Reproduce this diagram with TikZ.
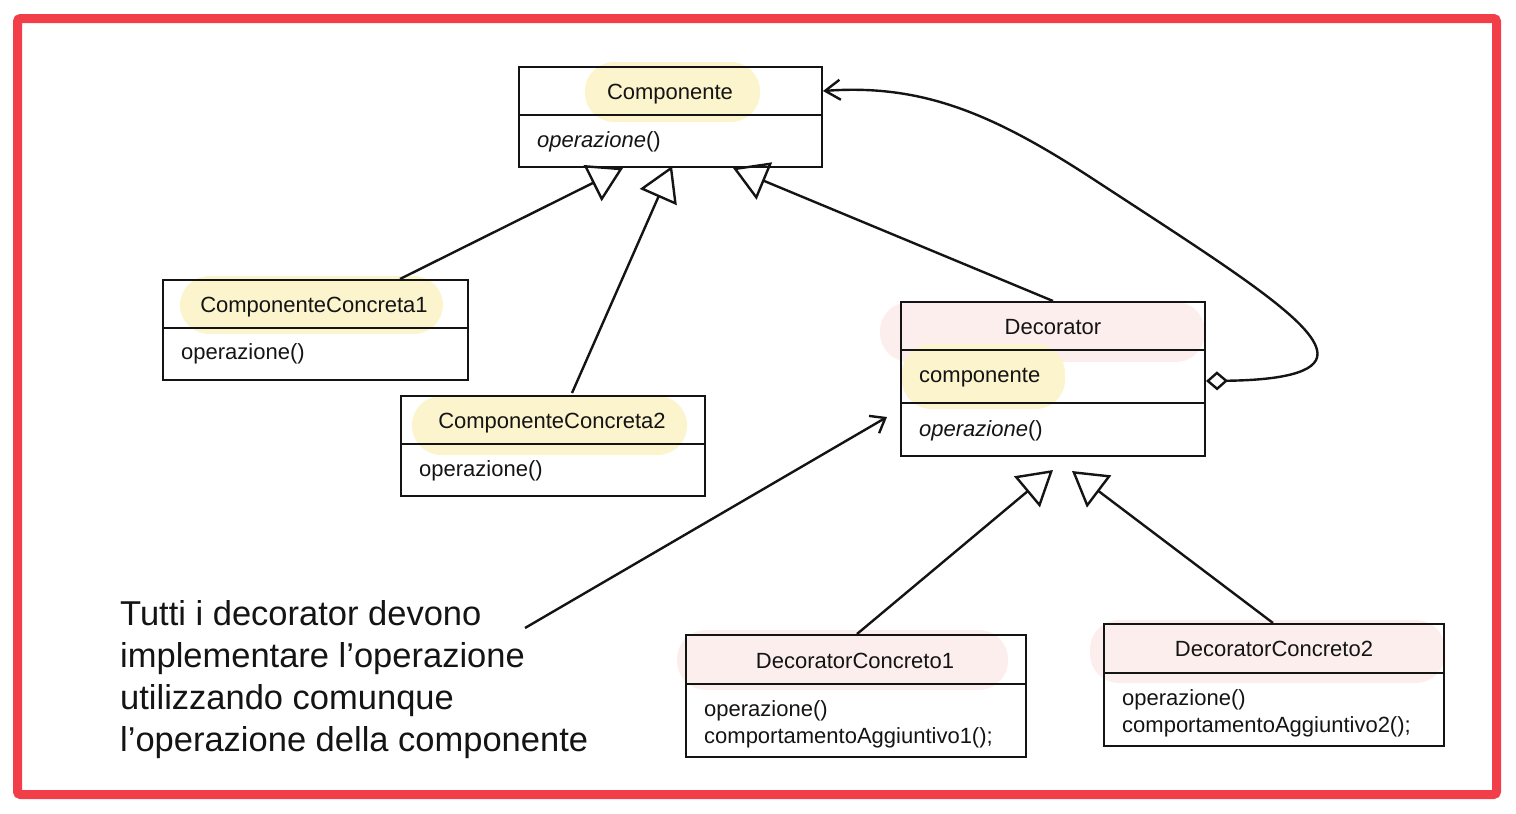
\documentclass[tikz,border=0pt]{standalone}
\usepackage{fontspec}
\setmainfont{Liberation Sans}
\usetikzlibrary{arrows.meta,calc}
\definecolor{frameRed}{RGB}{242,62,72}
\definecolor{hlY}{RGB}{252,244,204}
\definecolor{hlP}{RGB}{253,238,238}
\definecolor{ink}{RGB}{20,20,20}
\begin{document}
\begin{tikzpicture}[x=1pt,y=-1pt,
  umlbox/.style={draw=ink, line width=2pt, inner sep=0pt},
  divider/.style={draw=ink, line width=2pt},
  lbl/.style={inner sep=0pt, text=ink, font=\fontsize{22}{27}\selectfont},
  ctitle/.style={lbl, anchor=base},
  member/.style={lbl, anchor=base west},
  conn/.style={draw=ink, line width=2.4pt},
  inherit/.style={conn, -{Triangle[open,length=34pt,width=40pt]}},
  hly/.style={fill=hlY, rounded corners=29pt},
  hlp/.style={fill=hlP, rounded corners=29pt}]
\useasboundingbox (0,0) rectangle (1516,814);
\draw[frameRed, line width=9pt, rounded corners=3pt] (17.5,18.5) rectangle (1496.5,794.5);

% highlights
\fill[hly] (585,62) rectangle (760,122);
\fill[hly] (180,276) rectangle (443,334);
\fill[hly] (412,396) rectangle (687,455);
\fill[hlp] (880,302) rectangle (1205,362);
\fill[hly] (902,344) rectangle (1065,409);
\fill[hlp] (677,630) rectangle (1008,690);
\fill[hlp] (1090,620) rectangle (1445,683);

% boxes
\node[umlbox, minimum width=303pt, minimum height=100pt] (comp) at (670.5,117) {};
\draw[divider] (comp.west |- 0,115) -- (comp.east |- 0,115);
\node[ctitle] (compT) at (670,99) {Componente};
\node[member] (compO) at (537,147) {\textit{operazione}()};

\node[umlbox, minimum width=305pt, minimum height=100pt] (cc1) at (315.5,330) {};
\draw[divider] (cc1.west |- 0,328) -- (cc1.east |- 0,328);
\node[ctitle] (cc1T) at (314,312) {ComponenteConcreta1};
\node[member] (cc1O) at (181,359) {operazione()};

\node[umlbox, minimum width=304pt, minimum height=100pt] (cc2) at (553,446) {};
\draw[divider] (cc2.west |- 0,444) -- (cc2.east |- 0,444);
\node[ctitle] (cc2T) at (552,428) {ComponenteConcreta2};
\node[member] (cc2O) at (419,476) {operazione()};

\node[umlbox, minimum width=304pt, minimum height=154pt] (dec) at (1053,379) {};
\draw[divider] (dec.west |- 0,350) -- (dec.east |- 0,350);
\draw[divider] (dec.west |- 0,403) -- (dec.east |- 0,403);
\node[ctitle] (decT) at (1053,334) {Decorator};
\node[member] (decA) at (919,382) {componente};
\node[member] (decO) at (919,436) {\textit{operazione}()};

\node[umlbox, minimum width=340pt, minimum height=122pt] (dc1) at (856,696) {};
\draw[divider] (dc1.west |- 0,684) -- (dc1.east |- 0,684);
\node[ctitle] (dc1T) at (855,668) {DecoratorConcreto1};
\node[member] (dc1O) at (704,716) {operazione()};
\node[member] (dc1B) at (704,743) {comportamentoAggiuntivo1();};

\node[umlbox, minimum width=340pt, minimum height=122pt] (dc2) at (1274,685) {};
\draw[divider] (dc2.west |- 0,673) -- (dc2.east |- 0,673);
\node[ctitle] (dc2T) at (1274,656) {DecoratorConcreto2};
\node[member] (dc2O) at (1122,705) {operazione()};
\node[member] (dc2B) at (1122,732) {comportamentoAggiuntivo2();};

% note
\node[anchor=north west, inner sep=0pt, align=left, text=ink,
      font=\fontsize{34.5}{42}\selectfont] (note) at (120,600)
  {Tutti i decorator devono\\implementare l’operazione\\utilizzando comunque\\l’operazione della componente};

% arrow tip points
\coordinate (t1) at (623,168);
\coordinate (t2) at (672,166);
\coordinate (t3) at (733,168);
\coordinate (t4) at (1053,470);
\coordinate (t5) at (1072,471);
\coordinate (ns) at (525,628);
\coordinate (ne) at (887,417);

% inheritance
\draw[inherit] ($(cc1.north)+(84.5,0)$) -- (t1);
\draw[inherit] ($(cc2.north)+(19,-2)$) -- (t2);
\draw[inherit] (dec.north) -- (t3);
\draw[inherit] ($(dc1.north)+(1,0)$) -- (t4);
\draw[inherit] ($(dc2.north)+(-1,0)$) -- (t5);

% aggregation
\draw[conn, {Diamond[open,length=22pt,width=19pt]}-{Straight Barb[length=15pt,width=20pt]}]
  (dec.east |- 0,381) .. controls (1290,380) and (1322,370) .. (1317,350)
  .. controls (1310,318) and (1220,262) .. (1090,177)
  .. controls (990,112) and (920,84) .. (comp.east |- 0,91);

% note arrow
\draw[conn, -{Straight Barb[length=13pt,width=20pt]}] (ns) -- (ne);
\end{tikzpicture}
\end{document}
